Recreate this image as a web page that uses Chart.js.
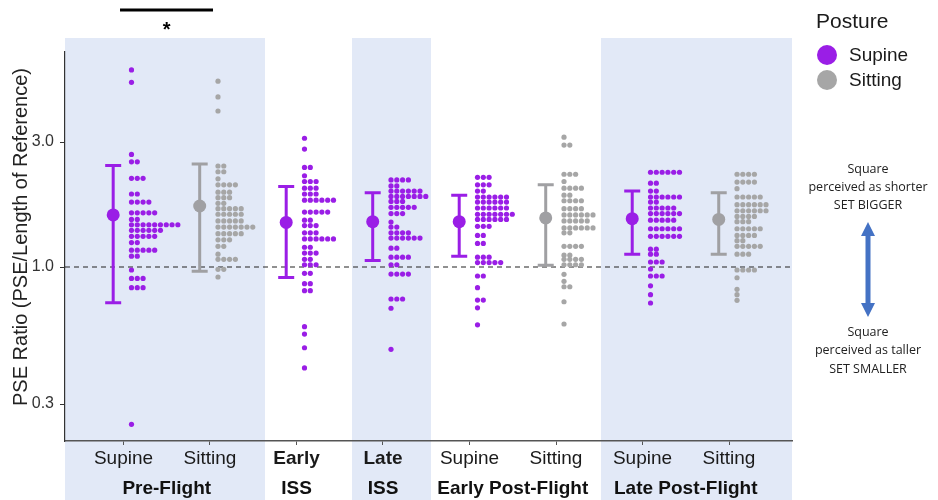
<!DOCTYPE html>
<html>
<head>
<meta charset="utf-8">
<script src="https://cdn.jsdelivr.net/npm/chart.js@4.4.1/dist/chart.umd.min.js"></script>
<style>
  html, body { margin: 0; padding: 0; background: #fff; }
  #wrap { width: 938px; height: 500px; }
</style>
</head>
<body>
<div id="wrap"><canvas id="chart" width="938" height="500"></canvas></div>
<script>
// categories along the x axis (one per error bar / dot column)
const tickLabels = ["Supine", "Sitting", "Early", "Late", "Supine", "Sitting", "Supine", "Sitting"];
const postures   = ["Supine", "Sitting", "Supine", "Supine", "Supine", "Sitting", "Supine", "Sitting"];

// second row of labels: phase name, first and last category (1-based)
const phaseNames = ["Pre-Flight", "ISS", "ISS", "Early Post-Flight", "Late Post-Flight"];
const phaseFirst = [1, 3, 4, 5, 7];
const phaseLast  = [2, 3, 4, 6, 8];

// mean and error bar limits per category
const means = [1.58, 1.71, 1.48, 1.49, 1.49, 1.54, 1.53, 1.52];
const lower = [0.731, 0.963, 0.913, 1.06, 1.10, 1.015, 1.12, 1.12];
const upper = [2.44, 2.47, 2.03, 1.92, 1.88, 2.06, 1.95, 1.92];

const yTicks = [0.3, 1.0, 3.0];

// dot plot rows: [PSE ratio, number of dots in the row]
const preSupine = [[5.65,1],[5.07,1],[2.69,1],[2.52,2],[2.18,3],[1.90,2],[1.77,4],[1.61,5],[1.52,2],[1.45,9],
  [1.38,6],[1.31,5],[1.24,2],[1.16,5],[1.10,2],[0.974,1],[0.905,3],[0.834,3],[0.251,1]];
const preSitting = [[5.12,1],[4.46,1],[3.94,1],[2.43,2],[2.31,2],[2.17,1],[2.06,4],[1.93,3],[1.84,3],[1.75,2],
  [1.67,5],[1.59,5],[1.50,5],[1.42,7],[1.34,5],[1.27,3],[1.20,2],[1.12,1],[1.07,4],[0.98,2],[0.916,1]];
const earlyIss = [[3.10,1],[2.82,1],[2.40,2],[2.23,1],[2.12,3],[2.00,3],[1.90,3],[1.80,6],[1.62,5],[1.51,2],
  [1.44,3],[1.35,3],[1.28,6],[1.19,2],[1.13,3],[1.07,2],[1.02,3],[0.946,2],[0.864,2],[0.812,2],
  [0.592,1],[0.555,1],[0.492,1],[0.412,1]];
const lateIss = [[2.15,4],[2.04,2],[1.95,6],[1.86,7],[1.78,3],[1.69,5],[1.60,3],[1.485,1],[1.42,2],[1.35,4],
  [1.29,6],[1.18,2],[1.09,4],[1.02,2],[0.94,4],[0.755,3],[0.696,1],[0.485,1]];
const earlyPostSupine = [[2.20,3],[2.06,3],[1.95,2],[1.85,6],[1.77,6],[1.68,6],[1.59,7],[1.52,6],[1.43,3],
  [1.32,2],[1.23,2],[1.09,3],[1.04,5],[0.924,2],[0.834,1],[0.748,2],[0.699,1],[0.602,1]];
const earlyPostSitting = [[3.13,1],[2.92,2],[2.26,3],[2.12,1],[2.00,4],[1.88,2],[1.79,4],[1.67,4],[1.58,6],
  [1.50,5],[1.41,6],[1.35,2],[1.20,4],[1.11,2],[1.07,4],[1.02,4],[0.938,1],[0.882,1],[0.841,2],[0.737,1],[0.606,1]];
const latePostSupine = [[2.30,6],[2.09,2],[1.95,2],[1.85,6],[1.77,2],[1.68,5],[1.60,6],[1.51,5],[1.40,6],
  [1.31,6],[1.17,2],[1.12,2],[1.045,3],[0.983,1],[0.924,3],[0.848,1],[0.784,1],[0.729,1]];
const latePostSitting = [[2.26,4],[2.11,4],[1.99,1],[1.85,5],[1.73,6],[1.64,6],[1.56,4],[1.49,3],[1.40,5],
  [1.32,4],[1.26,2],[1.20,5],[1.12,3],[0.974,4],[0.910,1],[0.822,1],[0.784,1],[0.746,1]];

const dotRows = [preSupine, preSitting, earlyIss, lateIss, earlyPostSupine, earlyPostSitting, latePostSupine, latePostSitting];

const FONT = '"Liberation Sans", Arial, sans-serif';
const PURPLE = "#9a1ee6";
const GRAY = "#a6a6a6";
const colorOf = p => p === "Supine" ? PURPLE : GRAY;

// offsets in x units
const ERR_OFF = -0.119;
const DOT_START = 0.0925;
const DOT_STEP = 0.067;

function dotsFor(posture) {
  const pts = [];
  dotRows.forEach((rows, i) => {
    if (postures[i] !== posture) return;
    rows.forEach(([v, n]) => {
      for (let k = 0; k < n; k++) pts.push({ x: i + 1 + DOT_START + k * DOT_STEP, y: v });
    });
  });
  return pts;
}

function meansFor(posture) {
  return means.map((m, i) => ({ x: i + 1 + ERR_OFF, y: m, p: postures[i] }))
    .filter(d => d.p === posture);
}

const decor = {
  id: "decor",
  beforeDraw(chart) {
    const { ctx, chartArea, scales: { x } } = chart;
    ctx.save();
    ctx.fillStyle = "#e2e9f7";
    const bands = [[x.min, 2.636], [3.642, 4.555], [6.52, x.max]];
    bands.forEach(([a, b]) => {
      const x0 = x.getPixelForValue(a), x1 = x.getPixelForValue(b);
      ctx.fillRect(x0, chartArea.top - 14, x1 - x0, chart.height - chartArea.top + 14);
    });
    ctx.restore();
  },
  beforeDatasetsDraw(chart) {
    const { ctx, chartArea, scales: { x, y } } = chart;
    ctx.save();
    // reference line at 1.0
    const y1 = y.getPixelForValue(1);
    ctx.strokeStyle = "#222";
    ctx.lineWidth = 1.2;
    ctx.setLineDash([5, 4]);
    ctx.beginPath();
    ctx.moveTo(chartArea.left, y1);
    ctx.lineTo(chartArea.right, y1);
    ctx.stroke();
    ctx.setLineDash([]);
    // error bars
    ctx.lineWidth = 3;
    means.forEach((m, i) => {
      const px = x.getPixelForValue(i + 1 + ERR_OFF);
      const top = y.getPixelForValue(upper[i]);
      const bot = y.getPixelForValue(lower[i]);
      ctx.strokeStyle = postures[i] === "Supine" ? PURPLE : "#a0a0a3";
      ctx.beginPath();
      ctx.moveTo(px, top); ctx.lineTo(px, bot);
      ctx.moveTo(px - 8, top); ctx.lineTo(px + 8, top);
      ctx.moveTo(px - 8, bot); ctx.lineTo(px + 8, bot);
      ctx.stroke();
    });
    ctx.restore();
  },
  afterDraw(chart) {
    const { ctx, scales: { x } } = chart;
    ctx.save();
    // y axis title
    ctx.save();
    ctx.translate(21, 237);
    ctx.rotate(-Math.PI / 2);
    ctx.fillStyle = "#222";
    ctx.font = "20px " + FONT;
    ctx.textAlign = "center";
    ctx.textBaseline = "middle";
    ctx.fillText("PSE Ratio (PSE/Length of Reference)", 0, 0);
    ctx.restore();
    // phase labels
    ctx.fillStyle = "#111";
    ctx.font = "bold 19px " + FONT;
    ctx.textAlign = "center";
    ctx.textBaseline = "middle";
    phaseNames.forEach((name, i) => {
      const cx = x.getPixelForValue((phaseFirst[i] + phaseLast[i]) / 2);
      ctx.fillText(name, cx, 489);
    });
    // significance bar
    ctx.strokeStyle = "#000";
    ctx.lineWidth = 3;
    ctx.beginPath();
    ctx.moveTo(x.getPixelForValue(0.96), 10);
    ctx.lineTo(x.getPixelForValue(2.035), 10);
    ctx.stroke();
    ctx.fillStyle = "#000";
    ctx.font = "bold 20px " + FONT;
    ctx.fillText("*", x.getPixelForValue(1.5), 30);
    // legend
    ctx.textAlign = "left";
    ctx.fillStyle = "#1a1a1a";
    ctx.font = "21px " + FONT;
    ctx.fillText("Posture", 816, 22);
    ["Supine", "Sitting"].forEach((p, i) => {
      const cy = 55 + i * 25;
      ctx.fillStyle = colorOf(p);
      ctx.beginPath();
      ctx.arc(827, cy, 10, 0, Math.PI * 2);
      ctx.fill();
      ctx.fillStyle = "#1a1a1a";
      ctx.font = "19px " + FONT;
      ctx.fillText(p, 849, cy + 1);
    });
    // annotation
    ctx.textAlign = "center";
    ctx.fillStyle = "#222";
    ctx.font = '12.5px "Open Sans", "Noto Sans", sans-serif';
    const ax = 868;
    [["Square", 169], ["perceived as shorter", 187], ["SET BIGGER", 205],
     ["Square", 332], ["perceived as taller", 350], ["SET SMALLER", 369]]
      .forEach(([t, ty]) => ctx.fillText(t, ax, ty));
    ctx.fillStyle = "#4472c4";
    ctx.beginPath();
    ctx.moveTo(ax, 222);
    ctx.lineTo(ax + 7, 236);
    ctx.lineTo(ax + 2.5, 236);
    ctx.lineTo(ax + 2.5, 303);
    ctx.lineTo(ax + 7, 303);
    ctx.lineTo(ax, 317);
    ctx.lineTo(ax - 7, 303);
    ctx.lineTo(ax - 2.5, 303);
    ctx.lineTo(ax - 2.5, 236);
    ctx.lineTo(ax - 7, 236);
    ctx.closePath();
    ctx.fill();
    ctx.restore();
  }
};

new Chart(document.getElementById("chart"), {
  type: "scatter",
  data: {
    datasets: [
      { label: "Supine dots", data: dotsFor("Supine"), backgroundColor: PURPLE, borderWidth: 0, pointRadius: 2.6 },
      { label: "Sitting dots", data: dotsFor("Sitting"), backgroundColor: GRAY, borderWidth: 0, pointRadius: 2.6 },
      { label: "Supine mean", data: meansFor("Supine"), backgroundColor: PURPLE, borderWidth: 0, pointRadius: 6.5 },
      { label: "Sitting mean", data: meansFor("Sitting"), backgroundColor: "#a0a0a3", borderWidth: 0, pointRadius: 6.5 }
    ]
  },
  options: {
    responsive: false,
    animation: false,
    devicePixelRatio: 1,
    layout: { padding: { top: 52, right: 146, left: 0, bottom: 0 } },
    plugins: { legend: { display: false }, tooltip: { enabled: false } },
    scales: {
      x: {
        type: "linear",
        min: 0.324,
        max: 8.728,
        afterBuildTicks: s => { s.ticks = tickLabels.map((_, i) => ({ value: i + 1 })); },
        afterFit: s => { s.height = 59; },
        grid: { drawOnChartArea: false, tickLength: 4, color: "#555" },
        border: { color: "#555", width: 1.5 },
        ticks: {
          autoSkip: false,
          maxRotation: 0,
          padding: 2,
          color: "#1a1a1a",
          callback: (v, i) => tickLabels[i],
          font: c => ({ family: FONT, size: 19,
            weight: (tickLabels[c.index] === "Supine" || tickLabels[c.index] === "Sitting") ? "normal" : "bold" })
        }
      },
      y: {
        type: "logarithmic",
        min: 0.2168,
        max: 6.616,
        afterBuildTicks: s => { s.ticks = yTicks.map(v => ({ value: v })); },
        afterFit: s => { s.width = 65; },
        grid: { drawOnChartArea: false, tickLength: 5, color: "#333" },
        border: { color: "#333", width: 1.2 },
        ticks: { padding: 6, color: "#333", font: { family: FONT, size: 16 }, callback: v => Number(v).toFixed(1) },
        title: { display: false }
      }
    }
  },
  plugins: [decor]
});
</script>
</body>
</html>
